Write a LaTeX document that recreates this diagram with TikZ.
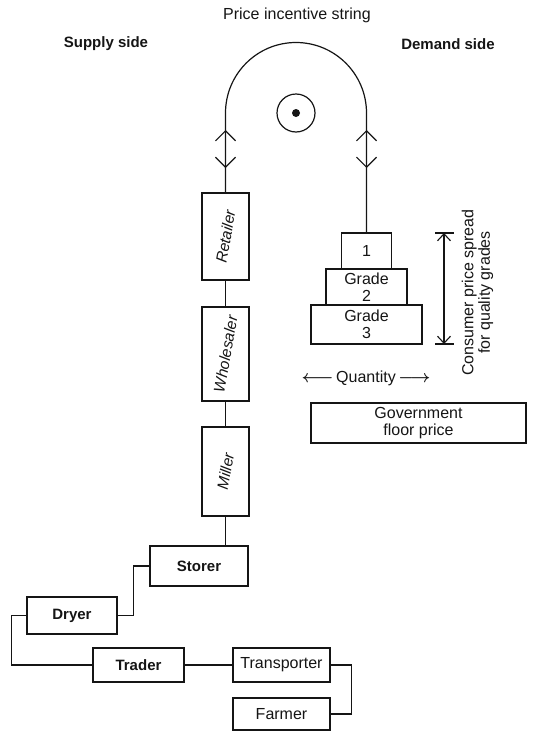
\documentclass[tikz,border=0pt]{standalone}
\usepackage{graphicx}
\usepackage{fontspec}
\setmainfont{Liberation Sans}
\usetikzlibrary{arrows.meta}
\definecolor{ink}{HTML}{151515}
\newcommand{\tilted}[1]{\rotatebox{80}{\itshape #1}}

\begin{document}
\begin{tikzpicture}[
  x=1pt, y=-1pt,
  box/.style={draw=ink, line width=1.2pt, inner sep=0pt, align=center, text=ink,
              font=\fontsize{16}{16.5}\selectfont},
  agent/.style={box, minimum width=97pt, minimum height=34pt},
  chain/.style={box, minimum width=47pt, font=\fontsize{15.5}{16}\selectfont},
  head/.style={text=ink, font=\fontsize{15}{16}\selectfont\bfseries},
  note/.style={text=ink, align=center, font=\fontsize{16}{16.5}\selectfont},
  string/.style={draw=ink, line width=1.2pt},
  pull/.style={{Straight Barb[length=10pt,width=20pt]}-{Straight Barb[length=10pt,width=20pt]},
               line width=1.2pt, draw=ink},
  spread/.style={{Straight Barb[length=7pt,width=13pt]}-{Straight Barb[length=7pt,width=13pt]},
                 line width=1.1pt, draw=ink}]
\useasboundingbox (0,0) rectangle (535,731);
\node[note] (ttl) at (297,15) {Price incentive string};
\node[head] (sup) at (106,44) {Supply side};
\node[head] (dem) at (448,44) {Demand side};
\node[circle, draw=ink, line width=1.2pt, minimum size=38pt, inner sep=0pt] (pul) at (296,113) {};
\fill[ink] (pul.center) circle[radius=4pt];
\node[chain, minimum height=87pt] (ret) at (225.5,236.5) {\tilted{Retailer}};
\node[chain, minimum height=94pt] (who) at (225.5,354) {\tilted{Wholesaler}};
\node[chain, minimum height=89pt] (mil) at (225.5,471.5) {\tilted{Miller}};
\node[box, font=\fontsize{15}{16}\selectfont\bfseries,
      minimum width=98pt, minimum height=40pt] (sto) at (199,566) {Storer};
\node[box, font=\fontsize{15}{16}\selectfont\bfseries,
      minimum width=90pt, minimum height=37pt] (dry) at (72,615.5) {Dryer};
\node[box, font=\fontsize{15}{16}\selectfont\bfseries,
      minimum width=91pt, minimum height=34pt] (tra) at (138.5,665) {Trader};
\node[agent] (trn) at (281.5,665) {Transporter};
\node[agent, minimum height=32pt] (frm) at (281.5,714) {Farmer};
\node[box, minimum width=50pt, minimum height=36pt] (g1) at (366.5,251) {1};
\node[box, minimum width=81pt, minimum height=36pt] (g2) at (366.5,287) {Grade\\2};
\node[box, minimum width=111pt, minimum height=39pt] (g3) at (366.5,324.5) {Grade\\3};
\node[note, rotate=90] (cps) at (477.5,292.5) {Consumer price spread\\for quality grades};
\node[note, font=\fontsize{16}{16.5}\selectfont\boldmath] (qty) at (366,378)
  {$\longleftarrow$\,\mdseries Quantity\,$\longrightarrow$};
\node[box, minimum width=215pt, minimum height=40pt] (gov) at (418.5,423) {Government\\floor price};
\coordinate (lt) at (225.5,113);
\coordinate (lu) at (225.5,130);
\coordinate (ld) at (225.5,168);
\coordinate (ru) at (366.5,130);
\coordinate (rd) at (366.5,168);
\coordinate (sTop) at (444,233);
\coordinate (sBot) at (444,344);
\draw[string] (ret.north) -- (lt) arc[start angle=180, end angle=360, radius=70.5] -- (g1.north);
\draw[pull] (lu) -- (ld);
\draw[pull] (ru) -- (rd);
\draw[string] (ret.south) -- (who.north);
\draw[string] (who.south) -- (mil.north);
\draw[string] (mil.south) -- (mil.south |- sto.north);
\draw[string] (dry.east) -- ++(16,0) |- (sto.west);
\draw[string] (dry.west) -- ++(-15,0) |- (tra.west);
\draw[string] (tra.east) -- (trn.west);
\draw[string] (trn.east) -- ++(21,0) |- (frm.east);
\draw[string] ([xshift=-9pt]sTop) -- ([xshift=10pt]sTop);
\draw[string] ([xshift=-9pt]sBot) -- ([xshift=10pt]sBot);
\draw[spread] (sTop) -- (sBot);
\end{tikzpicture}
\end{document}
